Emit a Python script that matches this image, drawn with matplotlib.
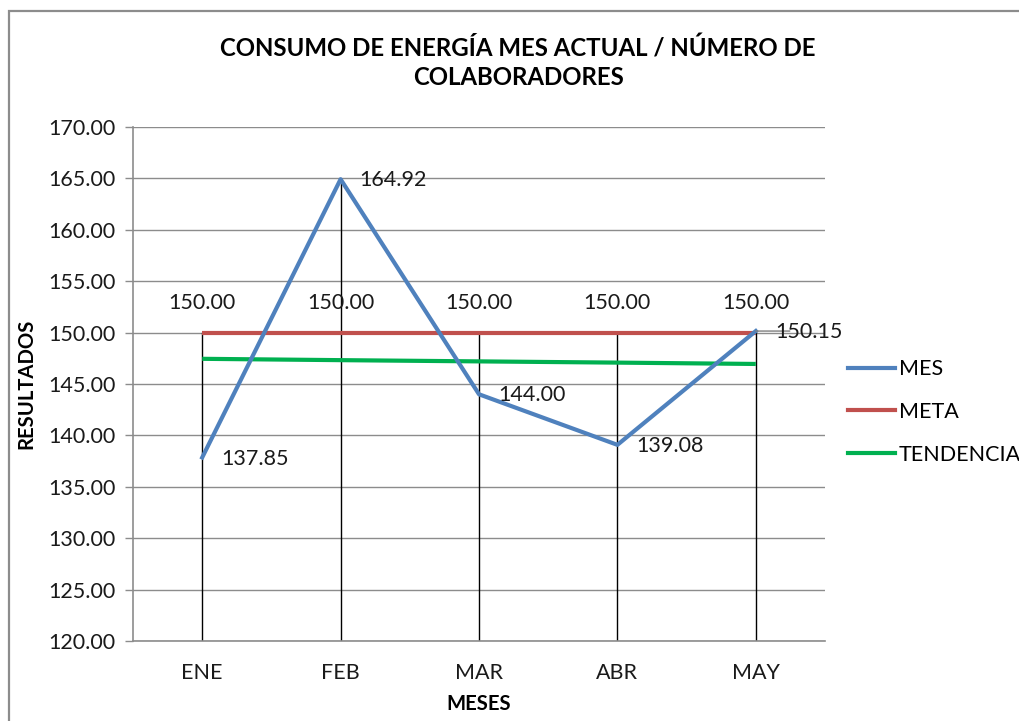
import matplotlib
matplotlib.use("Agg")
import matplotlib.pyplot as plt
from matplotlib.lines import Line2D
from matplotlib.patches import Rectangle

plt.rcParams['font.family'] = ['Lato', 'DejaVu Sans']

meses = ["ENE", "FEB", "MAR", "ABR", "MAY"]
mes = [137.85, 164.92, 144.00, 139.08, 150.15]
meta = [150.00, 150.00, 150.00, 150.00, 150.00]
tendencia = [147.45, 147.32, 147.20, 147.08, 146.95]
yticks = [120, 125, 130, 135, 140, 145, 150, 155, 160, 165, 170]

c_mes = "#4F81BD"
c_meta = "#C0504D"
c_tend = "#00B050"
FS = 15.5

W, H = 1019, 721
fig = plt.figure(figsize=(W / 100, H / 100), dpi=100)
fig.patch.set_facecolor("white")

# outer chart frame (cut at right/bottom as in reference)
fig.add_artist(Rectangle((9 / W, -0.05), 1.2, 1 - 11 / H + 0.05, transform=fig.transFigure,
                         fill=False, edgecolor="#8c8c8c", linewidth=1.6))

ax = fig.add_axes([133 / W, 1 - 641 / H, (825 - 133) / W, (641 - 127) / H])
x = list(range(len(meses)))

ax.set_xlim(-0.5, len(meses) - 0.5)
ax.set_ylim(120, 170)
ax.set_yticks(yticks)
ax.set_yticklabels([f"{v:.2f}" for v in yticks], fontsize=FS, color="#1a1a1a")
ax.set_xticks(x)
ax.set_xticklabels(meses, fontsize=FS, color="#1a1a1a")
ax.tick_params(axis="x", length=0, pad=16)
ax.tick_params(axis="y", length=5.8, width=1, color="#8c8c8c", pad=7)
ax.grid(axis="y", color="#8c8c8c", linewidth=1)
ax.set_axisbelow(True)
for s in ["top", "right"]:
    ax.spines[s].set_visible(False)
for s in ["left", "bottom"]:
    ax.spines[s].set_color("#8c8c8c")
    ax.spines[s].set_linewidth(1.2)

# drop lines
for i in x:
    top = max(mes[i], meta[i])
    ax.plot([i, i], [120, top], color="black", linewidth=1, zorder=2)

ax.plot(x, meta, color=c_meta, linewidth=3, zorder=3, solid_capstyle="butt")
ax.plot(x, tendencia, color=c_tend, linewidth=3, zorder=3, solid_capstyle="butt")
ax.plot(x, mes, color=c_mes, linewidth=3, zorder=4)

# meta labels above
for i in x:
    ax.annotate(f"{meta[i]:.2f}", (i, meta[i]), xytext=(0, 30), textcoords="offset pixels",
                ha="center", va="center", fontsize=FS, color="#1a1a1a")

# mes labels (to the right of the points)
for i in x:
    ax.annotate(f"{mes[i]:.2f}", (i, mes[i]), xytext=(19, -1), textcoords="offset pixels",
                ha="left", va="center", fontsize=FS, color="#1a1a1a", zorder=6)
# leader line for last label
ax.annotate("", (x[-1], mes[-1]), xytext=(34, 0), textcoords="offset pixels",
            arrowprops=dict(arrowstyle="-", color="#7f7f7f", lw=1, shrinkA=0, shrinkB=0), zorder=5)

ax.set_ylabel("RESULTADOS", fontsize=14.6, fontweight="bold", labelpad=8)
ax.set_xlabel("MESES", fontsize=14.6, fontweight="bold", labelpad=8)

fig.text(518 / W, 1 - 63 / H, "CONSUMO DE ENERGÍA MES ACTUAL / NÚMERO DE\nCOLABORADORES",
         ha="center", va="center", fontsize=17.3, fontweight="bold", linespacing=1.3)

handles = [Line2D([], [], color=c_mes, linewidth=3),
           Line2D([], [], color=c_meta, linewidth=3),
           Line2D([], [], color=c_tend, linewidth=3)]
fig.legend(handles, ["MES", "META", "TENDENCIA"], loc="center left",
           bbox_to_anchor=(848 / W, 1 - 412 / H), frameon=False, fontsize=FS,
           borderpad=0, borderaxespad=0,
           handlelength=2.2, handletextpad=0.15, labelspacing=1.05)

fig.savefig("out.png", dpi=100, facecolor="white")
